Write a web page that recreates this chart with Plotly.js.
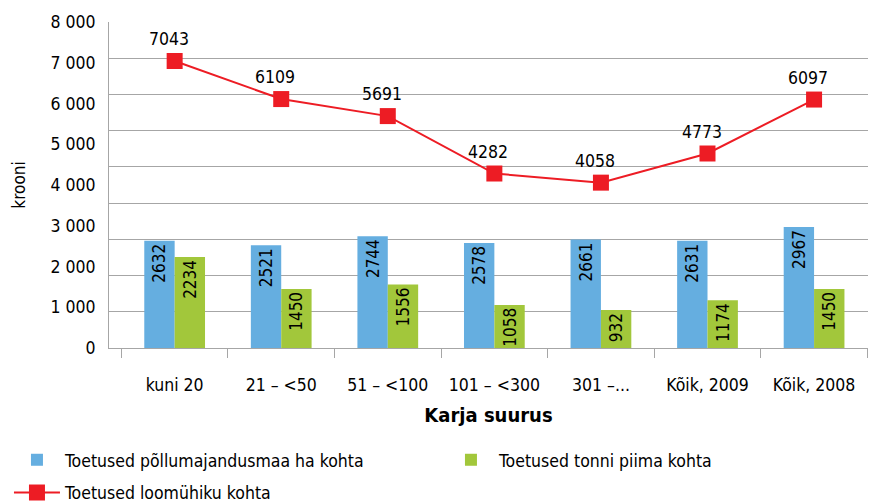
<!DOCTYPE html>
<html>
<head>
<meta charset="utf-8">
<script src="https://cdn.plot.ly/plotly-3.0.1.min.js"></script>
<style>html,body{margin:0;padding:0;background:#fff;overflow:hidden}</style>
</head>
<body>
<div id="chart" style="width:870px;height:504px"></div>
<script>
const categories = ["kuni 20", "21 – <50", "51 – <100", "101 – <300", "301 –...", "Kõik, 2009", "Kõik, 2008"];
const perHectare = [2632, 2521, 2744, 2578, 2661, 2631, 2967];
const perTonneMilk = [2234, 1450, 1556, 1058, 932, 1174, 1450];
const perAnimal = [7043, 6109, 5691, 4282, 4058, 4773, 6097];
const yTickVals = [0, 1000, 2000, 3000, 4000, 5000, 6000, 7000, 8000];
const yTickText = ["0", "1 000", "2 000", "3 000", "4 000", "5 000", "6 000", "7 000", "8 000"];
const gridVals = [888.9, 1777.8, 2666.7, 3555.6, 4444.4, 5333.3, 6222.2, 7111.1, 8000];
const seriesNames = ["Toetused põllumajandusmaa ha kohta", "Toetused tonni piima kohta", "Toetused loomühiku kohta"];

const FONT = "'DejaVu Sans Condensed', 'Liberation Sans', sans-serif";
const GRID = "#a6a6a6";
const FS = 17.5;

const traces = [
  {
    type: "bar", name: seriesNames[0], x: categories, y: perHectare,
    marker: {color: "#65aee0"}, legend: "legend", legendgroup: "a",
    text: perHectare.map(String), textposition: "inside", insidetextanchor: "end",
    textangle: -90, constraintext: "none",
    textfont: {family: FONT, size: 17, color: "#000"}, hoverinfo: "y"
  },
  {
    type: "bar", name: seriesNames[1], x: categories, y: perTonneMilk,
    marker: {color: "#a2c73b"}, legend: "legend2", legendgroup: "b",
    text: perTonneMilk.map(String), textposition: "inside", insidetextanchor: "end",
    textangle: -90, constraintext: "none",
    textfont: {family: FONT, size: 17, color: "#000"}, hoverinfo: "y"
  },
  {
    type: "scatter", mode: "lines+markers", name: seriesNames[2], x: categories, y: perAnimal,
    legend: "legend", legendgroup: "c",
    line: {color: "#ed1c24", width: 2},
    marker: {symbol: "square", size: 16, color: "#ed1c24"},
    cliponaxis: false
  }
];

const annotations = perAnimal.map((v, i) => ({
  x: categories[i], y: v, xref: "x", yref: "y",
  text: String(v), showarrow: false, yshift: 22, xshift: -6,
  font: {family: FONT, size: FS, color: "#000"}
}));

const legendFont = {family: FONT, size: FS, color: "#000"};

const layout = {
  width: 870, height: 504,
  margin: {l: 109, r: 2, t: 22, b: 156, autoexpand: false},
  paper_bgcolor: "#fff", plot_bgcolor: "#fff",
  font: {family: FONT, size: FS, color: "#000"},
  barmode: "group", bargap: 0.43, bargroupgap: 0,
  showlegend: true,
  legend: {
    orientation: "v", x: -0.1318, xanchor: "left", y: -0.288, yanchor: "top",
    font: legendFont, traceorder: "grouped", tracegroupgap: 7, itemwidth: 46,
    bgcolor: "rgba(0,0,0,0)"
  },
  legend2: {
    orientation: "v", x: 0.44, xanchor: "left", y: -0.288, yanchor: "top",
    font: legendFont, itemwidth: 46, bgcolor: "rgba(0,0,0,0)"
  },
  xaxis: {
    type: "category", range: [-0.616, 6.506], automargin: false,
    showline: true, linecolor: GRID, linewidth: 1,
    ticks: "outside", ticklen: 9, tickcolor: GRID, tickson: "boundaries",
    showgrid: false, ticklabelstandoff: 21, tickangle: 0,
    tickfont: {family: FONT, size: FS, color: "#000"},
    title: {text: "<b>Karja suurus</b>", font: {family: FONT, size: 20, color: "#000"}, standoff: 13}
  },
  yaxis: {
    range: [0, 8000], tickvals: yTickVals, ticktext: yTickText, automargin: false,
    showgrid: false, zeroline: false, showline: true, linecolor: GRID, linewidth: 1,
    ticks: "", ticklabelstandoff: 9,
    tickfont: {family: FONT, size: FS, color: "#000"},
    minor: {tickmode: "array", tickvals: gridVals, showgrid: true, gridcolor: GRID, gridwidth: 1, ticks: ""},
    title: {text: "krooni", font: {family: FONT, size: 17, color: "#000"}, standoff: 20}
  },
  annotations: annotations
};

Plotly.newPlot("chart", traces, layout, {displayModeBar: false, responsive: false});
</script>
</body>
</html>
